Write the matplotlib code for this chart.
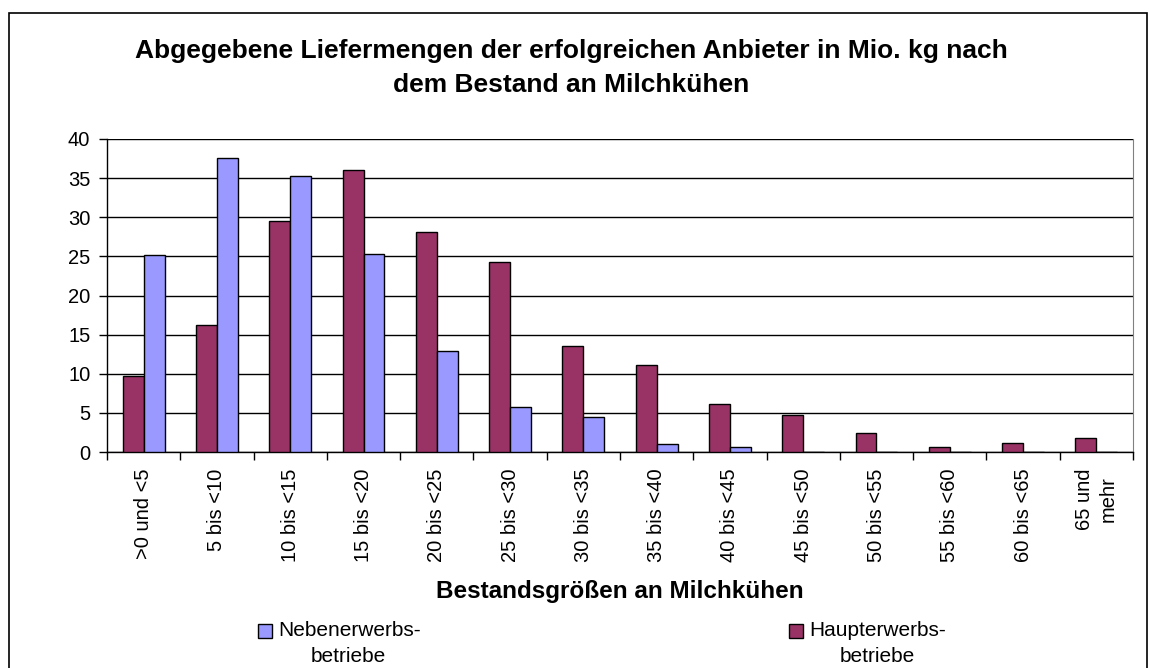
import matplotlib.pyplot as plt
from matplotlib.patches import Rectangle

plt.rcParams['font.family'] = ['Liberation Sans', 'DejaVu Sans']

# Daten
kategorien = ['>0 und <5', '5 bis <10', '10 bis <15', '15 bis <20', '20 bis <25',
              '25 bis <30', '30 bis <35', '35 bis <40', '40 bis <45', '45 bis <50',
              '50 bis <55', '55 bis <60', '60 bis <65', '65 und\nmehr']
haupterwerb = [9.7, 16.2, 29.5, 36.1, 28.1, 24.3, 13.6, 11.1, 6.1, 4.7, 2.4, 0.6, 1.2, 1.8]
nebenerwerb = [25.2, 37.6, 35.3, 25.3, 12.9, 5.7, 4.5, 1.0, 0.6, 0, 0, 0, 0, 0]
y_ticks = [0, 5, 10, 15, 20, 25, 30, 35, 40]

farbe_haupt = '#993366'
farbe_neben = '#9999ff'

W, H = 1150, 668
fig = plt.figure(figsize=(W / 100, H / 100), dpi=100)

# Achsenbereich in Pixeln
left, right, top, bottom = 107, 1133, 139, 452
ax = fig.add_axes([left / W, 1 - bottom / H, (right - left) / W, (bottom - top) / H])

x = list(range(len(kategorien)))
bw = 0.286
ax.bar([i - bw / 2 for i in x], haupterwerb, width=bw, color=farbe_haupt,
       edgecolor='black', linewidth=1, zorder=3)
ax.bar([i + bw / 2 for i in x], nebenerwerb, width=bw, color=farbe_neben,
       edgecolor='black', linewidth=1, zorder=3)

ax.set_xlim(-0.5, len(kategorien) - 0.5)
ax.set_ylim(0, 40)
ax.set_yticks(y_ticks)
ax.set_yticklabels([str(v) for v in y_ticks], fontsize=14.5)
ax.yaxis.grid(True, color='black', linewidth=1, zorder=0)

# Teilstriche an den Kategoriegrenzen, Beschriftung in der Mitte
ax.set_xticks([i - 0.5 for i in range(len(kategorien) + 1)])
ax.set_xticklabels([])
ax.set_xticks(x, minor=True)
ax.set_xticklabels(kategorien, minor=True, rotation=90, fontsize=14.5,
                   va='top', ha='center', multialignment='center', linespacing=1.3)
ax.tick_params(axis='x', which='major', length=6, width=1, color='black')
ax.tick_params(axis='x', which='minor', length=0, pad=12)
ax.tick_params(axis='y', length=6, width=1, pad=6)

for s in ['left', 'bottom']:
    ax.spines[s].set_color('black')
    ax.spines[s].set_linewidth(1)
ax.spines['top'].set_visible(False)
ax.spines['right'].set_color('#808080')

# Titel
fig.text(571 / W, 1 - 58 / H,
         'Abgegebene Liefermengen der erfolgreichen Anbieter in Mio. kg nach',
         ha='center', va='baseline', fontsize=19, fontweight='bold')
fig.text(571 / W, 1 - 92 / H, 'dem Bestand an Milchkühen',
         ha='center', va='baseline', fontsize=19, fontweight='bold')

# Achsentitel
fig.text(620 / W, 1 - 598 / H, 'Bestandsgrößen an Milchkühen',
         ha='center', va='baseline', fontsize=17.5, fontweight='bold')

# Legende
def legenden_eintrag(mx, farbe, zeile1, zeile2, cx2):
    fig.patches.append(Rectangle((mx / W, 1 - 638 / H), 14 / W, 14 / H,
                                 transform=fig.transFigure, facecolor=farbe,
                                 edgecolor='black', linewidth=1))
    fig.text((mx + 20) / W, 1 - 631 / H, zeile1, ha='left', va='center', fontsize=15)
    fig.text(cx2 / W, 1 - 656 / H, zeile2, ha='center', va='center', fontsize=15)

legenden_eintrag(258, farbe_neben, 'Nebenerwerbs-', 'betriebe', 348)
legenden_eintrag(789, farbe_haupt, 'Haupterwerbs-', 'betriebe', 877)

# Rahmen um das Diagramm
fig.patches.append(Rectangle((9 / W, -0.05), 1138 / W, 1 - 13 / H + 0.05,
                             transform=fig.transFigure, fill=False,
                             edgecolor='black', linewidth=1.2))

fig.savefig('out.png', dpi=100)
